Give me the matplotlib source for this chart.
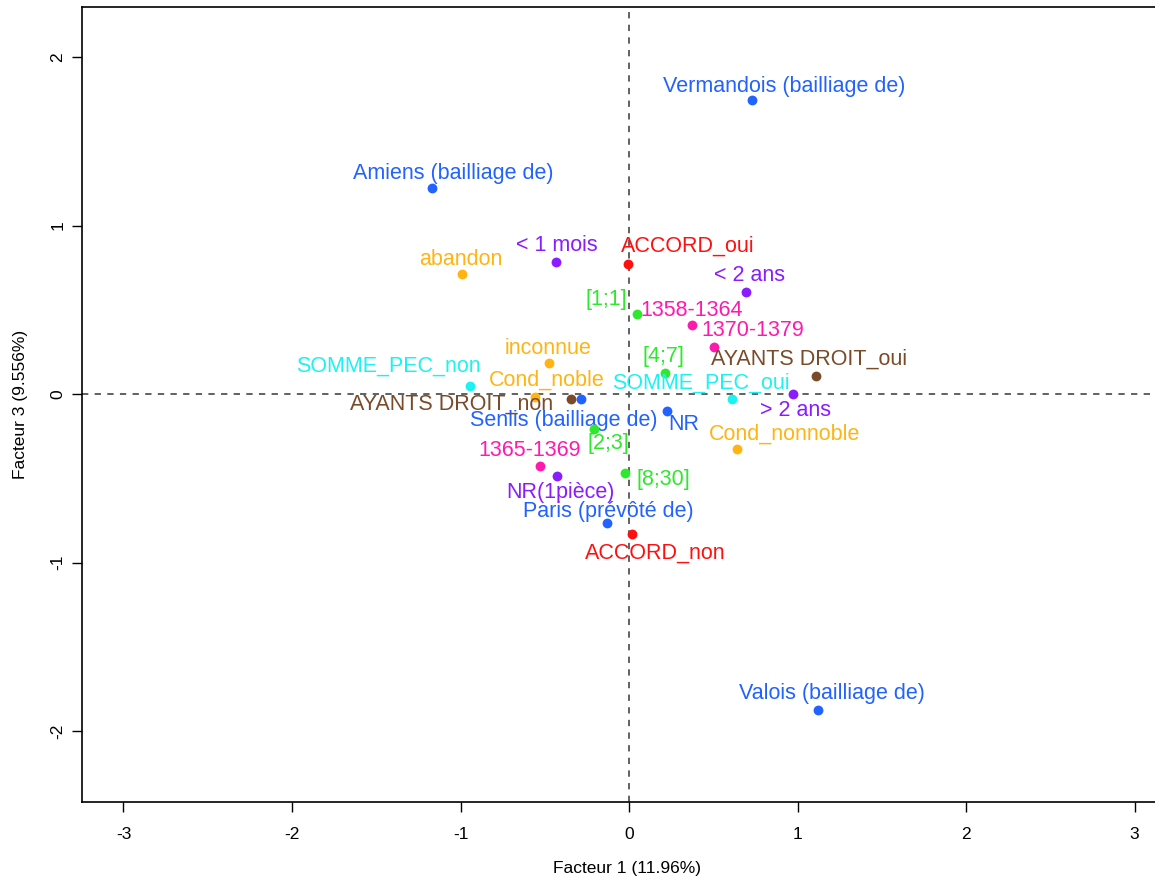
"""Carte factorielle ACM (facteurs 1 et 3)."""

import matplotlib
matplotlib.use("Agg")
import matplotlib.pyplot as plt

# modalites, coordonnees et groupes de variables
labels = [
    "Vermandois (bailliage de)", "Amiens (bailliage de)", "Senlis (bailliage de)",
    "Paris (prévôté de)", "Valois (bailliage de)", "NR",
    "ACCORD_oui", "ACCORD_non",
    "< 1 mois", "< 2 ans", "> 2 ans", "NR(1pièce)",
    "abandon", "inconnue", "Cond_noble", "Cond_nonnoble",
    "[1;1]", "[4;7]", "[2;3]", "[8;30]",
    "1358-1364", "1370-1379", "1365-1369",
    "AYANTS DROIT_oui", "AYANTS DROIT_non",
    "SOMME_PEC_oui", "SOMME_PEC_non",
]
dim1 = [
    0.73, -1.169, -0.285, -0.131, 1.122, 0.226,
    -0.006, 0.018,
    -0.433, 0.694, 0.973, -0.427,
    -0.991, -0.475, -0.558, 0.641,
    0.047, 0.214, -0.208, -0.024,
    0.374, 0.504, -0.528,
    1.11, -0.344,
    0.611, -0.944,
]
dim3 = [
    1.745, 1.223, -0.03, -0.766, -1.875, -0.10,
    0.772, -0.831,
    0.783, 0.605, 0.0, -0.487,
    0.712, 0.184, -0.018, -0.326,
    0.475, 0.125, -0.208, -0.469,
    0.409, 0.279, -0.427,
    0.107, -0.03,
    -0.03, 0.047,
]
groups = (
    ["bailliage"] * 6 + ["accord"] * 2 + ["duree"] * 4 + ["cond"] * 4
    + ["pieces"] * 4 + ["periode"] * 3 + ["ayants"] * 2 + ["somme"] * 2
)

COLORS = {
    "bailliage": "#2262FF",
    "accord": "#FF1010",
    "duree": "#8A1CFF",
    "cond": "#FFB414",
    "pieces": "#2EE82E",
    "periode": "#FF1AAE",
    "ayants": "#7A4B2A",
    "somme": "#1CF2F2",
}

# decalage des etiquettes (pixels) pour eviter les chevauchements
OFFSETS = [
    (32, 14), (21, 15), (-17, -21), (1, 12), (14, 17), (17, -14),
    (60, 18), (23, -19),
    (1, 17), (4, 17), (3, -16), (3, -16),
    (-1, 15), (-1, 15), (12, 17), (48, 15),
    (-31, 15), (-2, 17), (14, -14), (38, -6),
    (0, 15), (39, 17), (-10, 16),
    (-7, 17), (-119, -5),
    (-31, 16), (-82, 20),
]


def main() -> None:
    plt.rcParams["font.family"] = ["Liberation Sans", "DejaVu Sans"]
    plt.rcParams["axes.unicode_minus"] = False
    fig = plt.figure(figsize=(11.55, 8.77), dpi=100)
    ax = fig.add_axes([82 / 1155, 1 - 802 / 877, 1090 / 1155, 795 / 877])

    ax.axhline(0, color="#555555", linestyle=(0, (3.5, 3.5)), linewidth=1.3, zorder=1)
    ax.axvline(0, color="#555555", linestyle=(0, (3.5, 3.5)), linewidth=1.3, zorder=1)

    for x, y, lab, grp, off in zip(dim1, dim3, labels, groups, OFFSETS):
        col = COLORS[grp]
        ax.scatter(x, y, s=50, color=col, zorder=3, linewidths=0)
        ax.annotate(lab, (x, y), xytext=off, textcoords="offset pixels",
                    ha="center", va="center", color=col, fontsize=15.5)

    ax.set_xlim(-3.246, 3.222)
    ax.set_ylim(-2.42, 2.297)
    ax.set_xticks([-3, -2, -1, 0, 1, 2, 3])
    ax.set_yticks([-2, -1, 0, 1, 2])
    ax.tick_params(direction="out", length=7, width=1, labelsize=12.5)
    ax.tick_params(axis="x", pad=11)
    ax.tick_params(axis="y", pad=5)
    for t in ax.get_yticklabels():
        t.set_rotation(90)
        t.set_va("center")
    ax.set_xlabel("Facteur 1 (11.96%)", fontsize=12.5, labelpad=14)
    ax.set_ylabel("Facteur 3 (9.556%)", fontsize=12.5, labelpad=16)
    for sp in ax.spines.values():
        sp.set_linewidth(1.2)

    fig.savefig("out.png", dpi=100)


if __name__ == "__main__":
    main()
